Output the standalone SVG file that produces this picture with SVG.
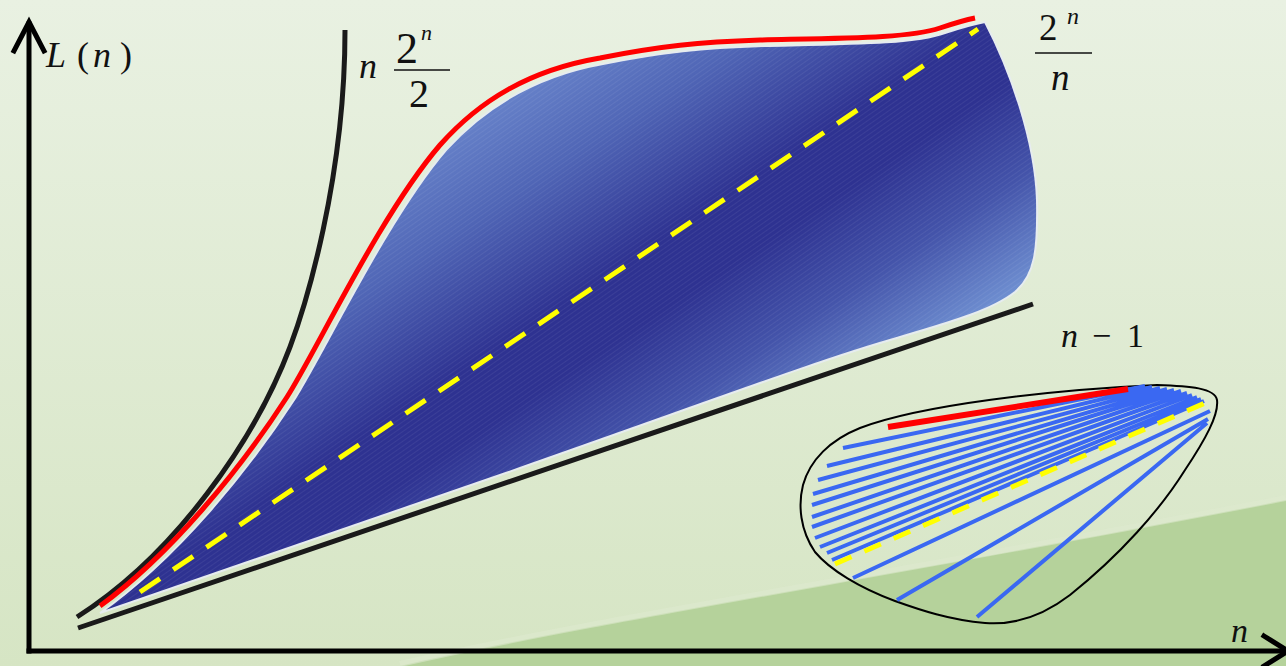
<svg xmlns="http://www.w3.org/2000/svg" width="1286" height="666" viewBox="0 0 1286 666">
<defs>
<linearGradient id="bg" x1="0" y1="0" x2="0" y2="1">
<stop offset="0" stop-color="#e9f1e2"/>
<stop offset="1" stop-color="#d6e5c4"/>
</linearGradient>
<linearGradient id="blob" gradientUnits="userSpaceOnUse" x1="419" y1="135" x2="672" y2="518">
<stop offset="0" stop-color="#6a86cc"/>
<stop offset="0.22" stop-color="#5066b6"/>
<stop offset="0.48" stop-color="#2e3291"/>
<stop offset="0.61" stop-color="#2e3291"/>
<stop offset="0.8" stop-color="#4454aa"/>
<stop offset="1" stop-color="#6e8ed0"/>
</linearGradient>
<pattern id="hatch" width="4" height="4" patternUnits="userSpaceOnUse" patternTransform="rotate(-35)">
<line x1="0" y1="0" x2="4" y2="0" stroke="#ffffff" stroke-width="1" stroke-opacity="0.12"/>
</pattern>
</defs>
<style>
.ax{fill:none;stroke:#000;stroke-width:5;stroke-linecap:square}
.t{fill:#111}
.i{font-style:italic}
.blue{stroke:#3a68f2;stroke-width:4;fill:none}
</style>
<rect width="1286" height="666" fill="url(#bg)"/>
<path d="M400,666 C600,620 900,575 1286,500 L1286,666 Z" fill="#b5d29b"/>
<path d="M400,664 C600,618 900,573 1286,498" fill="none" stroke="#dde9cf" stroke-width="6" stroke-opacity="0.6"/>

<g id="axes">
<path class="ax" d="M29,651 L29,24"/>
<path class="ax" d="M14,51 L29,22 L44,51"/>
<path class="ax" d="M29,651 L1282,651"/>
<path class="ax" d="M1264,636 L1288,651 L1264,666"/>
</g>

<g id="region">
<path d="M100,613 C175,560 246,474 294,400 C324,353 387,219 446,150 C486,106 536,76 603,64 C663,52 703,48 763,46 C853,44 915,44 945,33 C960,28 975,24 985,22 C1010,70 1035,140 1037,200 C1038,250 1035,275 1015,292 C990,312 940,325 890,340 C820,360 700,405 500,475 Z" fill="url(#blob)" stroke="#e6ecef" stroke-width="2"/>
<path d="M100,613 C175,560 246,474 294,400 C324,353 387,219 446,150 C486,106 536,76 603,64 C663,52 703,48 763,46 C853,44 915,44 945,33 C960,28 975,24 985,22 C1010,70 1035,140 1037,200 C1038,250 1035,275 1015,292 C990,312 940,325 890,340 C820,360 700,405 500,475 Z" fill="url(#hatch)"/>
</g>

<g id="curves">
<path d="M77,617 C175,555 255,440 290,347 C305,307 345,180 345,30" fill="none" stroke="#1a1a1a" stroke-width="5"/>
<path d="M100,606 C170,555 240,470 287,397 C317,350 380,215 440,145 C480,100 530,70 600,58 C660,46 700,42 760,40 C850,38 910,38 940,28 C955,23 965,20 975,18" fill="none" stroke="#ff0000" stroke-width="5"/>
<path d="M78,628 L1033,304" fill="none" stroke="#1a1a1a" stroke-width="5"/>
<path d="M140,592 L978,29" fill="none" stroke="#ffff00" stroke-width="5" stroke-dasharray="24,16"/>
</g>

<g id="inset">
<path d="M1157,385 C1190,386 1215,388 1217,400 C1219,415 1205,440 1185,470 C1160,510 1120,555 1070,595 C1040,618 1010,625 985,623 C950,620 920,610 895,601 C860,588 830,570 815,552 C800,530 798,505 803,485 C810,460 830,440 860,428 C920,405 1050,390 1157,385 Z" fill="none" stroke="#000" stroke-width="2"/>
<path class="blue" d="M843,448 L1145,386 M827,466 L1152,387 M818,480 L1160,388 M813,494 L1167,389 M812,505 L1174,390 M812,517 L1181,391 M812,527 L1187,393 M815,538 L1192,395 M820,547 L1197,397 M827,553 L1201,399 M832,560 L1204,401 M853,578 L1210,411 M897,600 L1208,419 M977,617 L1207,423"/>
<path d="M888,427 L1128,389" fill="none" stroke="#ff0000" stroke-width="6"/>
<path d="M835,564 L1205,403" fill="none" stroke="#ffff00" stroke-width="5" stroke-dasharray="18,14"/>
</g>

<g id="labels" font-family="'Liberation Serif', 'Times New Roman', serif">
<text class="t i" x="46" y="67" font-size="36">L</text>
<text class="t" x="77" y="67" font-size="36">(</text>
<text class="t i" x="93" y="67" font-size="36">n</text>
<text class="t" x="120" y="67" font-size="36">)</text>

<text class="t i" x="359" y="78" font-size="36">n</text>
<text class="t" x="396" y="63" font-size="44">2</text>
<text class="t i" x="421" y="40" font-size="22">n</text>
<line x1="394" y1="70" x2="450" y2="70" stroke="#111" stroke-width="1.5"/>
<text class="t" x="409" y="107" font-size="40">2</text>

<text class="t" x="1039" y="40" font-size="37">2</text>
<text class="t i" x="1067" y="24" font-size="24">n</text>
<line x1="1035" y1="53" x2="1092" y2="53" stroke="#111" stroke-width="1.5"/>
<text class="t i" x="1051" y="90" font-size="37">n</text>

<text class="t i" x="1061" y="347" font-size="34">n</text>
<text class="t" x="1092" y="347" font-size="34">−</text>
<text class="t" x="1127" y="347" font-size="34">1</text>

<text class="t i" x="1231" y="642" font-size="34">n</text>
</g>
</svg>
